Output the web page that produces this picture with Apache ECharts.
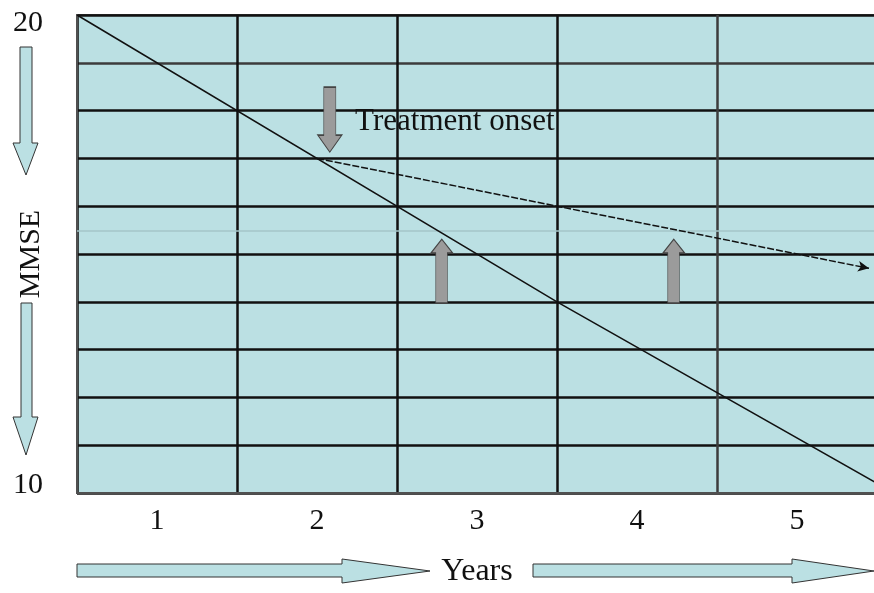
<!DOCTYPE html>
<html>
<head>
<meta charset="utf-8">
<title>MMSE decline over years</title>
<script src="https://cdn.jsdelivr.net/npm/echarts@6/dist/echarts.min.js"></script>
<style>
  html, body { margin: 0; padding: 0; background: #ffffff; }
  #chart { width: 874px; height: 593px; }
</style>
</head>
<body>
<div id="chart"></div>
<script>
// Year columns along the bottom
const yearLabels = ['1', '2', '3', '4', '5'];
// MMSE scale bounds
const mmseMin = 10;
const mmseMax = 20;
const mmseLabels = [10, 20];

// Untreated course: [year, MMSE]
const naturalYears = [0.5, 3.5, 5.5];
const naturalMmse = [20, 14, 10.2];

// Treated course from onset: [year, MMSE]
const treatedYears = [2, 5.45];
const treatedMmse = [17, 14.7];

// Annotation arrows: [year, MMSE] at arrow centre
const onsetArrow = [2.08, 17.81];
const benefitArrowYears = [2.78, 4.23];
const benefitArrowMmse = [14.64, 14.64];

// Faint reference level
const referenceLevel = 15.48;

const serif = 'Liberation Serif';
const fill = '#bbe0e3';

const chart = echarts.init(document.getElementById('chart'), null, { renderer: 'canvas' });

const GRID = { left: 77, top: 15, width: 800, height: 478 };

const downArrowPath = 'path://M6,0 L18,0 L18,48 L24,48 L12,65 L0,48 L6,48 Z';
const upArrowPath = 'path://M11,0 L22,14 L16.5,14 L16.5,64 L5,64 L5,14 L0,14 Z';

const hColors = [];
for (let v = mmseMin; v <= mmseMax; v++) hColors.push(v === 19 ? '#3c3c3c' : '#111111');
const vColors = ['#111111', '#111111', '#111111', '#111111', '#3c3c3c', '#111111'];

const option = {
  animation: false,
  grid: {
    left: GRID.left, top: GRID.top, width: GRID.width, height: GRID.height,
    containLabel: false,
    outerBoundsMode: 'none',
    show: true, backgroundColor: fill, borderColor: '#505050', borderWidth: 2
  },
  xAxis: [
    {
      type: 'category',
      data: yearLabels,
      boundaryGap: true,
      axisLine: { show: true, lineStyle: { color: '#505050', width: 2 } },
      axisTick: { show: false },
      axisLabel: { fontFamily: serif, fontSize: 30, color: '#111', margin: 13 },
      splitLine: { show: true, lineStyle: { color: vColors, width: 2.5 } },
      name: 'Years',
      nameLocation: 'middle',
      nameGap: 63,
      nameMoveOverlap: false,
      nameTextStyle: { fontFamily: serif, fontSize: 32, color: '#111' }
    },
    {
      type: 'value',
      min: 0.5,
      max: 5.5,
      show: false
    }
  ],
  yAxis: {
    type: 'value',
    min: mmseMin,
    max: mmseMax,
    interval: 1,
    axisLine: { show: true, lineStyle: { color: '#505050', width: 2 } },
    axisTick: { show: false },
    axisLabel: {
      margin: 34,
      formatter: function (v) {
        if (v === mmseLabels[1]) return '{top|' + v + '}';
        if (v === mmseLabels[0]) return '{bot|' + v + '}';
        return '';
      },
      rich: {
        top: { fontFamily: serif, fontSize: 30, color: '#111', padding: [16, 0, 0, 0] },
        bot: { fontFamily: serif, fontSize: 30, color: '#111', padding: [0, 0, 16, 0] }
      }
    },
    splitLine: { show: true, lineStyle: { color: hColors, width: 2.5 } },
    name: 'MMSE',
    nameLocation: 'middle',
    nameGap: 31,
    nameRotate: 90,
    nameMoveOverlap: false,
    nameTextStyle: { fontFamily: serif, fontSize: 30, color: '#111' }
  },
  series: [
    {
      name: 'Untreated',
      type: 'line',
      xAxisIndex: 1,
      data: naturalYears.map((x, i) => [x, naturalMmse[i]]),
      symbol: 'none',
      lineStyle: { color: '#111', width: 1.5 },
      z: 5,
      markLine: {
        silent: true,
        symbol: 'none',
        label: { show: false },
        lineStyle: { color: '#a5c6c9', width: 1.5, type: 'solid' },
        data: [{ yAxis: referenceLevel }]
      }
    },
    {
      name: 'Treated',
      type: 'line',
      xAxisIndex: 1,
      data: treatedYears.map((x, i) => ({
        value: [x, treatedMmse[i]],
        symbol: i === treatedYears.length - 1 ? 'arrow' : 'none',
        symbolSize: [8, 11],
        symbolRotate: -101,
        itemStyle: { color: '#111' }
      })),
      lineStyle: { color: '#111', width: 1.5, type: [7, 2] },
      z: 5
    },
    {
      name: 'Treatment onset',
      type: 'scatter',
      xAxisIndex: 1,
      data: [onsetArrow],
      symbol: downArrowPath,
      symbolSize: [24, 65],
      itemStyle: { color: '#9b9b9b', borderColor: '#444', borderWidth: 1, opacity: 1 },
      label: {
        show: true,
        position: 'right',
        distance: 13,
        formatter: 'Treatment onset',
        fontFamily: serif,
        fontSize: 31,
        color: '#111',
        offset: [0, 2]
      },
      z: 6
    },
    {
      name: 'Benefit',
      type: 'scatter',
      xAxisIndex: 1,
      data: benefitArrowYears.map((x, i) => [x, benefitArrowMmse[i]]),
      symbol: upArrowPath,
      symbolSize: [22, 64],
      itemStyle: { color: '#9b9b9b', borderColor: '#444', borderWidth: 1, opacity: 1 },
      z: 6
    }
  ],
  graphic: [
    // direction arrows beside the MMSE axis
    {
      type: 'polygon',
      shape: { points: [[20, 47], [32, 47], [32, 143], [38, 143], [26, 175], [13, 143], [20, 143]] },
      style: { fill: fill, stroke: '#333', lineWidth: 1 }
    },
    {
      type: 'polygon',
      shape: { points: [[21, 303], [32, 303], [32, 417], [38, 417], [26, 455], [13, 417], [21, 417]] },
      style: { fill: fill, stroke: '#333', lineWidth: 1 }
    },
    // direction arrows beside the Years title
    {
      type: 'polygon',
      shape: { points: [[77, 564], [342, 564], [342, 559], [430, 571], [342, 583], [342, 577], [77, 577]] },
      style: { fill: fill, stroke: '#333', lineWidth: 1 }
    },
    {
      type: 'polygon',
      shape: { points: [[533, 564], [792, 564], [792, 559], [874, 571], [792, 583], [792, 577], [533, 577]] },
      style: { fill: fill, stroke: '#333', lineWidth: 1 }
    }
  ]
};

chart.setOption(option);
</script>
</body>
</html>
